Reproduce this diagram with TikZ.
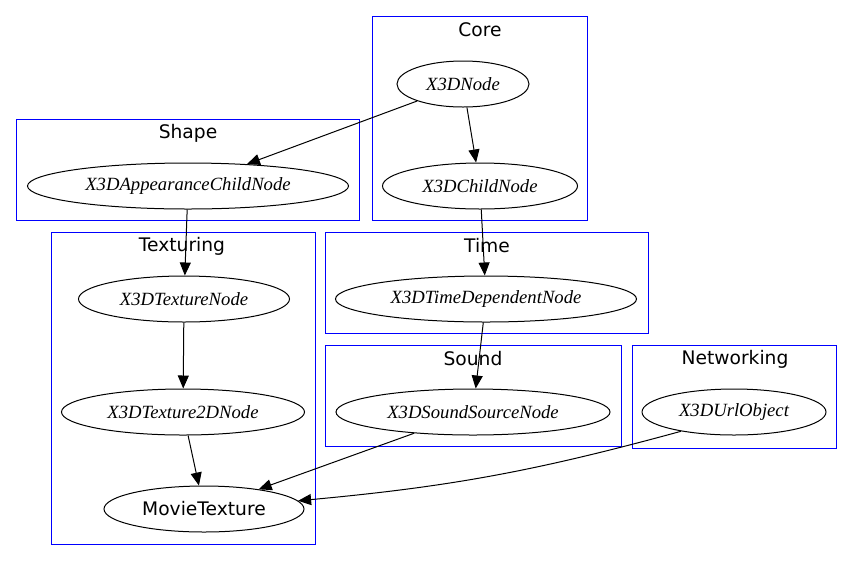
\documentclass[tikz,border=0pt]{standalone}
\usepackage{fontspec}
\usepackage{tikz}
\usetikzlibrary{arrows.meta}
\usetikzlibrary{shapes.geometric}
\newfontfamily\dvsans{DejaVu Sans}
\newfontfamily\lserif{Liberation Serif}
\tikzset{cluster/.style = {draw=blue, line width=1pt},
         clabel/.style = {font=\dvsans\fontsize{18.67}{22}\selectfont},
         cls/.style = {draw, ellipse, line width=1pt, inner sep=0pt,
                       minimum height=46pt,
                       font=\lserif\itshape\fontsize{18.67}{22}\selectfont},
         leaf/.style = {cls, font=\dvsans\fontsize{18.67}{22}\selectfont},
         edge/.style = {line width=1pt, -{Triangle[length=13pt, width=11pt]}}}

\begin{document}
\begin{tikzpicture}[x=1pt, y=-1pt]
    \useasboundingbox [fill=white] (0, 0) rectangle (853, 571);
    % packages
    \draw [cluster] (372, 16) rectangle (587, 220);
    \node [clabel] (core) at (480, 30) {Core};
    \draw [cluster] (16, 119) rectangle (359, 220);
    \node [clabel] (shape) at (188, 133) {Shape};
    \draw [cluster] (51, 232) rectangle (315, 544);
    \node [clabel] (texturing) at (182, 246) {Texturing};
    \draw [cluster] (325, 232) rectangle (648, 333);
    \node [clabel] (time) at (487, 246) {Time};
    \draw [cluster] (325, 345) rectangle (621, 446);
    \node [clabel] (sound) at (473, 359) {Sound};
    \draw [cluster] (632, 345) rectangle (836, 448);
    \node [clabel] (networking) at (735, 359) {Networking};
    % classes
    \node [cls, minimum width=132pt] (x3dnode) at (463, 84) {X3DNode};
    \node [cls, minimum width=195pt] (childnode) at (480, 186) {X3DChildNode};
    \node [cls, minimum width=321pt] (appchild) at (188, 186) {X3DAppearanceChildNode};
    \node [cls, minimum width=211pt] (texnode) at (184, 299) {X3DTextureNode};
    \node [cls, minimum width=301pt] (timedep) at (486, 299) {X3DTimeDependentNode};
    \node [cls, minimum width=243pt] (tex2d) at (183, 412) {X3DTexture2DNode};
    \node [cls, minimum width=274pt] (soundsrc) at (473, 412) {X3DSoundSourceNode};
    \node [cls, minimum width=184pt] (urlobj) at (734, 412) {X3DUrlObject};
    \node [leaf, minimum width=200pt] (movie) at (204, 509) {MovieTexture};
    % inheritance
    \draw [edge] (x3dnode) -- (appchild);
    \draw [edge] (x3dnode) -- (childnode);
    \draw [edge] (appchild) -- (texnode);
    \draw [edge] (childnode) -- (timedep);
    \draw [edge] (texnode) -- (tex2d);
    \draw [edge] (timedep) -- (soundsrc);
    \draw [edge] (tex2d) -- (movie);
    \draw [edge] (soundsrc) -- (movie);
    \draw [edge] (urlobj.200) to [bend left=5] (movie.5);
\end{tikzpicture}
\end{document}
